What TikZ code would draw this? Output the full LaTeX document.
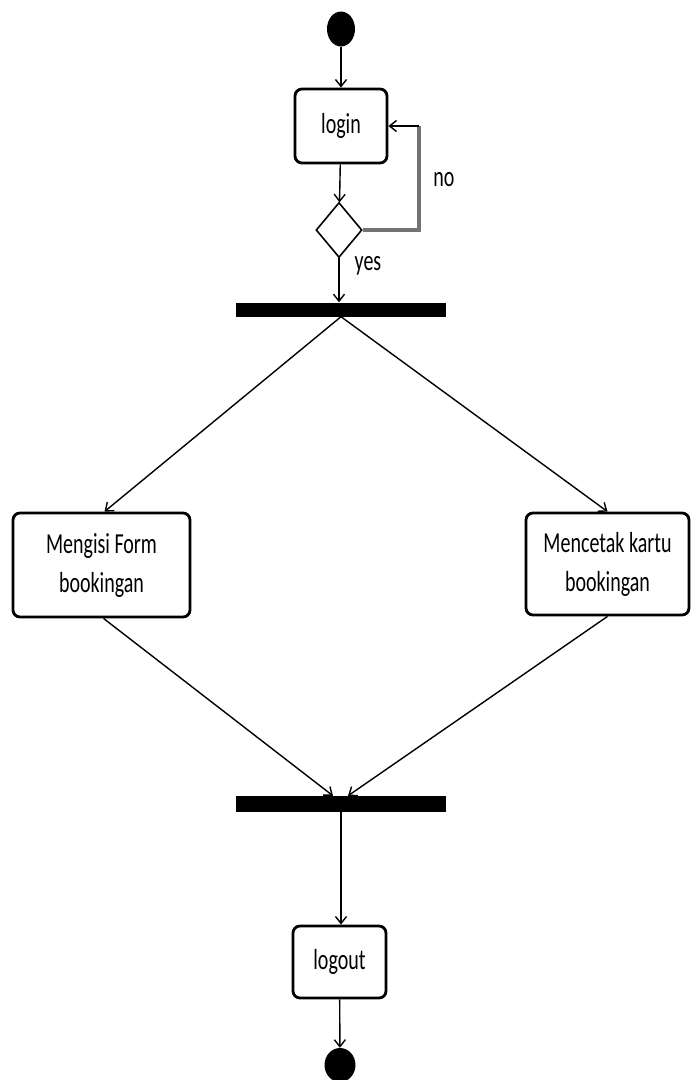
\documentclass[tikz,border=0pt]{standalone}
\usepackage{fontspec}
\setmainfont{Carlito}
\usetikzlibrary{arrows.meta,shapes.geometric,calc}
\newcommand{\tallt}[1]{\scalebox{1}[1.45]{\fontsize{20}{27}\selectfont\begin{tabular}{@{}c@{}}#1\end{tabular}}}
\begin{document}
\begin{tikzpicture}[x=1pt,y=-1pt,
  act/.style={draw=black,line width=2.8pt,rounded corners=7pt,fill=white,inner sep=0pt},
  bar/.style={fill=black,draw=none,inner sep=0pt},
  dot/.style={ellipse,fill=black,draw=none,inner sep=0pt},
  flow/.style={draw=black,line width=1.4pt,-{Straight Barb[length=7pt,width=11pt,line width=1.4pt]}},
  lab/.style={inner sep=0pt,font=\fontsize{20}{27}\selectfont}]
\useasboundingbox (0,0) rectangle (691,1080);
% start and end points
\node[dot,minimum width=28pt,minimum height=35pt] (start) at (341,29) {};
\node[dot,minimum width=31pt,minimum height=34pt] (stop) at (340,1065) {};
% actions
\node[act,minimum width=92pt,minimum height=74pt] (login) at (341,126) {\tallt{login}};
\node[diamond,draw=black,line width=1.6pt,inner sep=0pt,aspect=0.84,minimum width=46pt,minimum height=55pt] (dec) at (339,230) {};
\node[bar,minimum width=210pt,minimum height=14pt] (fork) at (341,309.5) {};
\node[act,minimum width=177pt,minimum height=104pt] (form) at (101.5,565) {\tallt{Mengisi Form\\bookingan}};
\node[act,minimum width=163pt,minimum height=102pt] (cetak) at (607.5,564) {\tallt{Mencetak kartu\\bookingan}};
\node[bar,minimum width=210pt,minimum height=16pt] (join) at (341,804) {};
\node[act,minimum width=93pt,minimum height=72pt] (logout) at (339.5,962) {\tallt{logout}};
% guard labels
\node[lab] (no) at (444,180) {\scalebox{1}[1.45]{no}};
\node[lab] (yes) at (368,266) {\scalebox{1}[1.45]{yes}};
% flows
\draw[flow] (start) -- (login);
\draw[flow] (login) -- (dec);
\coordinate (loopc) at (419,126);
\draw[draw=black!55,line width=4pt] (dec.east) -| (loopc);
\draw[flow,line width=2.4pt] (loopc) -- (login.east);
\draw[flow] (dec.south) -- (fork.north -| dec.south);
\draw[flow] (fork.south) -- ($(form.north)+(3,0)$);
\draw[flow] (fork.south) -- (cetak.north);
\draw[flow] ($(form.south)+(2,0)$) -- ($(join.north)+(-8,0)$);
\draw[flow] (cetak.south) -- ($(join.north)+(7,0)$);
\draw[flow] (join.south) -- (logout.north -| join.south);
\draw[flow] (logout) -- (stop);
\end{tikzpicture}
\end{document}
